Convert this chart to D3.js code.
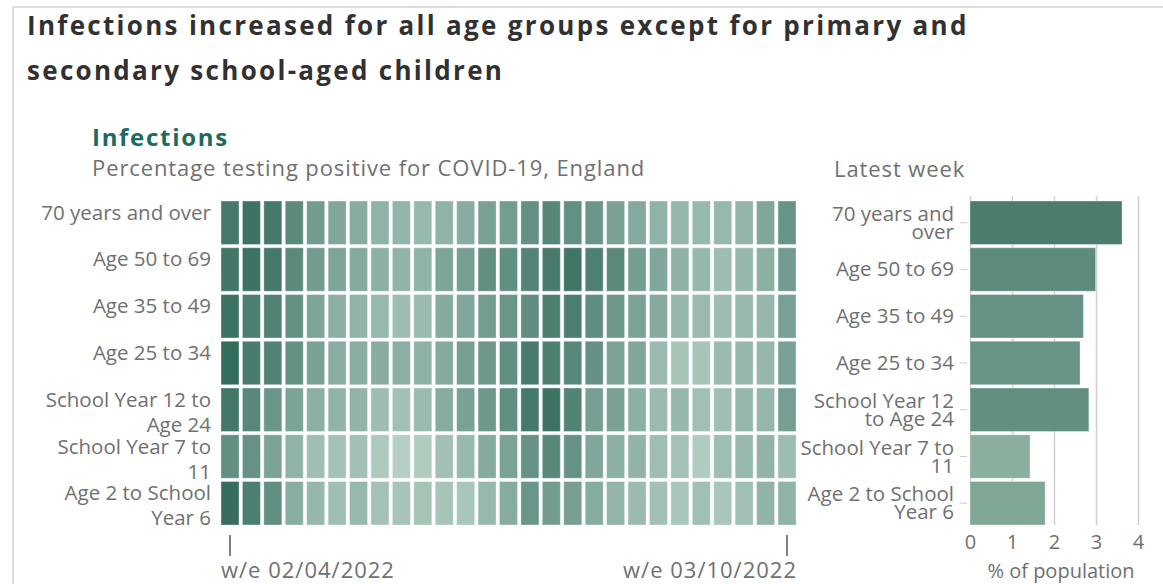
<!DOCTYPE html>
<html>
<head>
<meta charset="utf-8">
<script src="https://cdn.jsdelivr.net/npm/d3@7"></script>
<style>
  body { margin: 0; background: #fff; }
  svg { font-family: "Open Sans", sans-serif; }
  .title { font-weight: 700; font-size: 26px; letter-spacing: 2.3px; fill: #323132; }
  .head { font-weight: 700; font-size: 24px; letter-spacing: 1.7px; fill: #206a5d; }
  .sub { font-size: 22px; letter-spacing: 0.9px; fill: #707071; }
  .lab { font-size: 20.5px; fill: #707071; }
  .date { font-size: 22px; letter-spacing: 1px; fill: #707071; }
  .axis text { font-family: "Open Sans", sans-serif; font-size: 20px; fill: #707071; }
</style>
</head>
<body>
<script>
// age groups, top to bottom
var ageGroups = ["70 years and over", "Age 50 to 69", "Age 35 to 49", "Age 25 to 34",
                 "School Year 12 to Age 24", "School Year 7 to 11", "Age 2 to School Year 6"];

// week ending dates
var weeks = ["02/04/2022","09/04/2022","16/04/2022","23/04/2022","30/04/2022","07/05/2022",
             "14/05/2022","21/05/2022","28/05/2022","04/06/2022","11/06/2022","18/06/2022",
             "25/06/2022","02/07/2022","09/07/2022","16/07/2022","23/07/2022","30/07/2022",
             "06/08/2022","13/08/2022","20/08/2022","27/08/2022","03/09/2022","10/09/2022",
             "17/09/2022","24/09/2022","03/10/2022"];

// % testing positive per week
var age70plus = [6.71,7.66,6.71,4.50,3.02,2.32,2.03,1.78,1.69,1.56,1.78,2.03,2.65,2.95,
                 3.95,4.88,3.95,3.45,2.65,2.20,1.78,1.64,1.56,1.56,1.69,2.32,3.62];
var age50to69 = [7.07,7.66,6.71,4.50,3.02,2.45,2.14,1.88,1.73,1.78,2.45,2.80,4.05,4.05,
                 5.14,6.36,7.26,5.56,4.50,2.87,2.32,1.83,1.60,1.43,1.60,1.88,2.99];
var age35to49 = [7.66,5.87,5.42,3.84,2.45,1.93,1.73,1.56,1.43,1.51,2.14,2.38,2.95,3.45,
                 4.16,5.71,5.87,4.16,3.28,2.58,2.14,1.64,1.51,1.43,1.56,1.64,2.70];
var age25to34 = [8.98,6.19,5.28,3.84,2.65,1.98,1.98,2.03,1.93,1.83,2.14,2.80,3.28,4.05,
                 6.19,5.71,4.75,3.84,2.58,2.32,1.51,1.19,1.19,1.47,1.60,1.64,2.62];
var yr12to24  = [6.89,4.75,3.45,2.51,1.93,1.73,1.73,1.43,1.29,1.51,2.09,2.65,3.28,4.05,
                 6.71,7.66,5.28,2.80,2.65,1.88,1.47,1.60,1.32,1.36,1.64,1.64,2.83];
var yr7to11   = [4.05,3.74,2.51,1.78,1.36,1.25,1.29,1.07,0.91,1.01,1.29,1.56,2.14,2.58,
                 3.74,4.75,3.74,2.32,1.88,1.73,1.39,1.25,1.01,1.39,1.56,1.73,1.43];
var age2toYr6 = [8.75,5.87,4.05,1.98,1.60,1.36,1.56,1.25,1.19,1.22,1.19,1.16,1.56,2.09,
                 3.45,3.02,2.72,2.09,1.69,1.47,1.29,1.16,1.32,1.16,1.32,1.73,1.79];

var barTicks = [0, 1, 2, 3, 4];

var series = [age70plus, age50to69, age35to49, age25to34, yr12to24, yr7to11, age2toYr6];
var cells = [];
series.forEach(function(vals, i) {
  vals.forEach(function(v, j) { cells.push({group: ageGroups[i], week: weeks[j], value: v}); });
});
// latest week = last column
var latest = series.map(function(vals, i) { return {group: ageGroups[i], value: vals[vals.length - 1]}; });

var svg = d3.select("body").append("svg").attr("width", 1163).attr("height", 584);

// frame
svg.append("path").attr("d", "M13,600V7H1170").attr("fill", "none")
  .attr("stroke", "#dcdcdc").attr("stroke-width", 2);

svg.append("text").attr("class", "title").attr("x", 27).attr("y", 35)
  .text("Infections increased for all age groups except for primary and");
svg.append("text").attr("class", "title").attr("x", 27).attr("y", 80)
  .text("secondary school-aged children");
svg.append("text").attr("class", "head").attr("x", 92).attr("y", 146).text("Infections");
svg.append("text").attr("class", "sub").attr("x", 92).attr("y", 176)
  .text("Percentage testing positive for COVID-19, England");
svg.append("text").attr("class", "sub").attr("x", 834).attr("y", 177).text("Latest week");

var x = d3.scaleBand().domain(weeks).range([221, 796]).paddingInner(0.16);
var y = d3.scaleBand().domain(ageGroups).range([201, 525]).paddingInner(0.07);
var color = d3.scaleSequentialLog(d3.interpolateRgb("#c4dccf", "#2e6759")).domain([0.7, 10]);

function wrap(sel, width, lineH, centred) {
  sel.each(function() {
    var text = d3.select(this), words = text.text().split(/\s+/),
        tx = text.attr("x"), ty = +text.attr("y");
    text.text(null);
    var lines = [], line = [];
    var probe = text.append("tspan");
    words.forEach(function(w) {
      line.push(w);
      probe.text(line.join(" "));
      if (probe.node().getComputedTextLength() > width && line.length > 1) {
        line.pop(); lines.push(line.join(" ")); line = [w];
      }
    });
    lines.push(line.join(" "));
    probe.remove();
    var start = centred ? -(lines.length - 1) * lineH / 2 : 0;
    lines.forEach(function(l, i) {
      text.append("tspan").attr("x", tx).attr("y", ty + start + i * lineH).text(l);
    });
  });
}

// heatmap
svg.append("g").selectAll("rect").data(cells).join("rect")
  .attr("x", d => x(d.week)).attr("y", d => y(d.group))
  .attr("width", x.bandwidth()).attr("height", y.bandwidth())
  .attr("fill", d => color(d.value))
  .attr("stroke", "#fff").attr("stroke-opacity", 0.35).attr("stroke-width", 1);

svg.append("g").selectAll("text").data(ageGroups).join("text").attr("class", "lab")
  .attr("x", 211).attr("y", d => y(d) + y.bandwidth() / 2 - 3)
  .attr("text-anchor", "end").text(d => d)
  .call(wrap, 176, 25, false);

// first / last week ticks
var ends = [weeks[0], weeks[weeks.length - 1]];
var dg = svg.append("g");
dg.selectAll("line").data(ends).join("line")
  .attr("x1", d => x(d) + x.bandwidth() / 2).attr("x2", d => x(d) + x.bandwidth() / 2)
  .attr("y1", 535).attr("y2", 556).attr("stroke", "#555").attr("stroke-width", 1.5);
dg.selectAll("text").data(ends).join("text").attr("class", "date")
  .attr("x", (d, i) => i ? x(d) + x.bandwidth() + 1 : x(d)).attr("y", 578)
  .attr("text-anchor", (d, i) => i ? "end" : "start")
  .text(d => "w/e " + d);

// latest week bars
var xb = d3.scaleLinear().domain([0, 4]).range([970, 1138]);
var barColor = d3.scaleLinear().domain([1.43, 3.62]).range(["#8aaf9e", "#4b7d6f"]);

var gx = svg.append("g").attr("class", "axis").attr("transform", "translate(0,525)")
  .call(d3.axisBottom(xb).tickValues(barTicks).tickFormat(d3.format("d"))
    .tickSize(-329).tickPadding(10));
gx.select(".domain").remove();
gx.selectAll("line").attr("stroke", "#d0d0d0").attr("stroke-width", 1.5);

svg.append("g").selectAll("rect").data(latest).join("rect")
  .attr("x", xb(0)).attr("y", d => y(d.group))
  .attr("width", d => xb(d.value) - xb(0)).attr("height", y.bandwidth())
  .attr("fill", d => barColor(d.value))
  .attr("stroke", "#fff").attr("stroke-opacity", 0.35);

var gy = svg.append("g").attr("class", "axis").attr("transform", "translate(967,0)")
  .call(d3.axisLeft(y).tickSize(7).tickPadding(6));
gy.select(".domain").remove();
gy.selectAll("line").attr("stroke", "#ccc");
gy.selectAll("text").style("font-size", "20.5px").attr("dy", null).attr("y", 7)
  .call(wrap, 158, 18, true);

svg.append("text").attr("class", "lab").attr("x", 1061).attr("y", 578)
  .attr("text-anchor", "middle").style("font-size", "20px").text("% of population");
</script>
</body>
</html>
